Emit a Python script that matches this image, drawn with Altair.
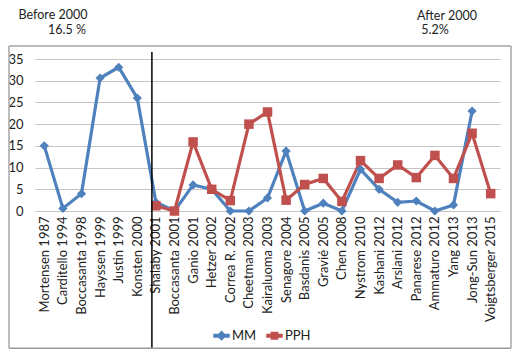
import altair as alt
import pandas as pd

categories = ["Mortensen 1987", "Carditello 1994", "Boccasanta 1998", "Hayssen 1999",
              "Justin 1999", "Konsten 2000", "Shalaby 2001", "Boccasanta 2001",
              "Ganio 2001", "Hetzer 2002", "Correa R. 2002", "Cheetman 2003",
              "Kairaluoma 2003", "Senagore 2004", "Basdanis 2005", "Gravié 2005",
              "Chen 2008", "Nystrom 2010", "Kashani 2012", "Arslani 2012",
              "Panarese 2012", "Ammaturo 2012", "Yang 2013", "Jong-Sun 2013",
              "Voigtsberger 2015"]
mm = [15, 0.6, 4, 30.6, 33.1, 26, 2, 0, 6, 5, 0, 0, 3, 13.8, 0, 1.8, 0, 9.6, 5, 2,
      2.3, 0, 1.4, 23, None]
pph = [None, None, None, None, None, None, 1.2, 0, 15.9, 5, 2.4, 20, 22.8, 2.5, 6.1,
       7.5, 2.2, 11.6, 7.5, 10.6, 7.7, 12.8, 7.5, 17.9, 4.0]
series_names = ["MM", "PPH"]
series_colors = ["#4F81BD", "#C0504D"]
divider_category = ["Shalaby 2001"]

rows = []
for c, a, b in zip(categories, mm, pph):
    if a is not None:
        rows.append({"cat": c, "series": "MM", "value": a})
    if b is not None:
        rows.append({"cat": c, "series": "PPH", "value": b})
df = pd.DataFrame(rows)

FONT = "Lato"
xenc = alt.X("cat:N",
             scale=alt.Scale(type="point", padding=0.5, domain=categories),
             axis=alt.Axis(title=None, labelAngle=-90, labelFontSize=13, labelFont=FONT,
                           labelColor="#222222", ticks=False, domain=False, grid=False,
                           labelPadding=5, labelOverlap=False))
yenc = alt.Y("value:Q", scale=alt.Scale(domain=[0, 35], nice=False),
             axis=alt.Axis(title=None, values=[0, 5, 10, 15, 20, 25, 30, 35],
                           labelFontSize=13, labelFont=FONT, labelColor="#222222",
                           ticks=False, domain=False, gridColor="#c4c4c4",
                           gridWidth=1, labelPadding=12))
cscale = alt.Scale(domain=series_names, range=series_colors)

diamond_path = "M-1,-0.17H1V0.17H-1Z M0,-0.55L0.55,0L0,0.55L-0.55,0Z"
square_path = "M-1,-0.17H1V0.17H-1Z M-0.42,-0.42H0.42V0.42H-0.42Z"
leg = alt.Legend(title=None, orient="none", legendX=178, legendY=268,
                 direction="horizontal", symbolSize=225,
                 labelFontSize=13, labelFont=FONT,
                 labelColor="#222222", columnPadding=7,
                 labelOffset=2)
# tiny hidden points that only carry the legend
legend_layer = alt.Chart(df).mark_point(filled=True, opacity=1, size=1).encode(
    x=xenc, y=yenc,
    fill=alt.Fill("series:N", scale=alt.Scale(domain=series_names, range=series_colors),
                  legend=leg),
    shape=alt.Shape("series:N", scale=alt.Scale(domain=series_names,
                                                range=[diamond_path, square_path]),
                    legend=leg))

lines = alt.Chart(df).mark_line(strokeWidth=3.2).encode(
    x=xenc, y=yenc, color=alt.Color("series:N", scale=cscale, legend=None))

mm_pts = alt.Chart(df).transform_filter(alt.datum.series == "MM").mark_point(
    shape="diamond", filled=True, size=85, opacity=1).encode(
    x=xenc, y=yenc, color=alt.Color("series:N", scale=cscale, legend=None))
pph_pts = alt.Chart(df).transform_filter(alt.datum.series == "PPH").mark_point(
    shape="square", filled=True, size=90, opacity=1).encode(
    x=xenc, y=yenc, color=alt.Color("series:N", scale=cscale, legend=None))

divider = alt.Chart(pd.DataFrame({"cat": divider_category})).mark_rule(
    color="black", strokeWidth=1.5, xOffset=-4).encode(
    x=xenc, y=alt.value(-7), y2=alt.value(291))

# chart-area border (decoration), anchored to the scales and shifted outward
FRAME = "#a6a6a6"
first_last = {"cat": [categories[0]], "cat2": [categories[-1]]}
frame_top = alt.Chart(pd.DataFrame({**first_last, "value": [35]})).mark_rule(
    color=FRAME, strokeWidth=1.5, yOffset=-13, xOffset=-35.3, x2Offset=20.3).encode(
    x=xenc, x2="cat2:N", y=yenc)
frame_bottom = alt.Chart(pd.DataFrame({**first_last, "value": [0]})).mark_rule(
    color="#9a9a9a", strokeWidth=2, yOffset=137.5, xOffset=-35.3, x2Offset=20.3).encode(
    x=xenc, x2="cat2:N", y=yenc)
frame_left = alt.Chart(pd.DataFrame({"cat": [categories[0]]})).mark_rule(
    color=FRAME, strokeWidth=1.5, xOffset=-35.3).encode(
    x=xenc, y=alt.value(-13), y2=alt.value(289))
frame_right = alt.Chart(pd.DataFrame({"cat": [categories[-1]]})).mark_rule(
    color=FRAME, strokeWidth=1.5, xOffset=20.3).encode(
    x=xenc, y=alt.value(-13), y2=alt.value(289))

def label(txt, x, y):
    return alt.Chart(pd.DataFrame({"a": [0]})).mark_text(
        text=txt, font=FONT, fontSize=12.5, color="#222222", align="center",
        baseline="middle").encode(x=alt.value(x), y=alt.value(y))

chart = alt.layer(
    legend_layer, lines, mm_pts, pph_pts, divider,
    label("Before 2000", 18, -44), label("16.5 %", 32, -29),
    label("After 2000", 412, -43), label("5.2%", 400, -29),
    frame_top, frame_bottom, frame_left, frame_right,
).properties(
    width=465, height=152,
    autosize=alt.AutoSizeParams(type="none"),
    padding={"left": 27, "top": 51, "right": 12, "bottom": 138},
).configure_view(stroke=None)

chart.save("out.html", embed_options={"renderer": "svg", "actions": False})
